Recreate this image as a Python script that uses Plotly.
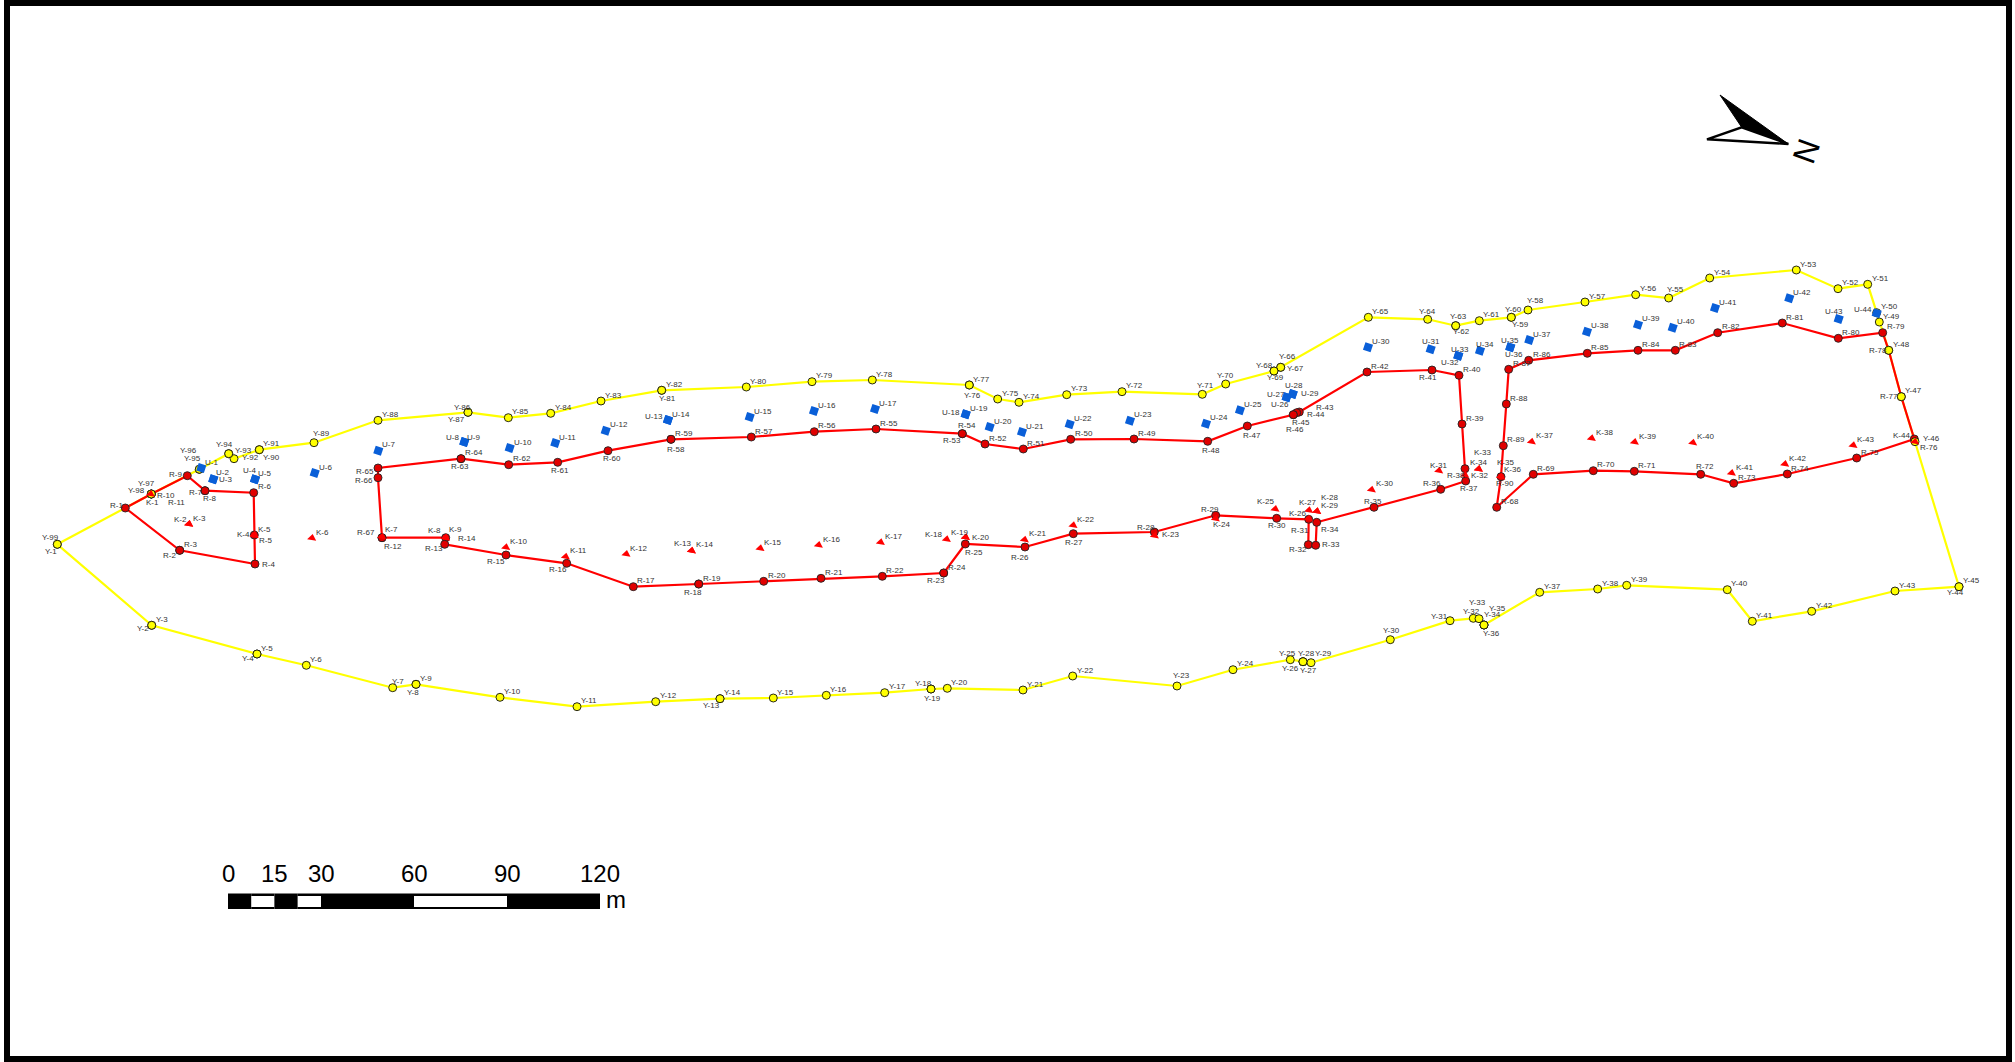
import plotly.graph_objects as go

# ---- boundary points "Y" (map coordinates)
Y_x = [57.3,151.7,151.7,257,257,306.3,392.7,416,416,500,577,655.7,720,720,773.3,826.3,884.7,931,931,947.3,
       1023,1072.7,1177,1233,1290.3,1303,1303,1303,1311,1390.3,1450,1473.3,1479,1484,1484,1484,1539.7,1597.7,1626.7,1727.3,
       1752.3,1811.7,1895,1959,1959,1915,1901.3,1888.7,1879.3,1876.7,1867.7,1838,1796.3,1709.7,1668.7,1635.7,1585,1528,1511.3,1511.3,
       1479.3,1455.7,1455.7,1427.7,1368.3,1280.7,1280.7,1274,1274,1225.7,1202.3,1122,1066.7,1019,997.7,969.3,969.3,872.3,812,746.3,
       661.7,661.7,601,550.7,508.3,468,468,378,314,259.3,259.3,234,228.7,228.7,199.3,199.3,151.3,151.3,57.3]
Y_y = [544.3,625.3,625.3,654,654,665.3,687.7,684.3,684.3,697.3,706.7,701.7,698.7,698.7,698,695.3,692.7,689,689,688.3,
       690,676,686,669.7,659.7,661.7,661.7,661.7,662.7,639.7,620.7,618.3,618.7,625,625,625,592.3,589,585.3,589.7,
       621.3,611.3,591,586.7,586.7,441.7,396.7,350.3,322,312.7,284.3,288.7,270,278,298,294.7,302,310,317.3,317.3,
       320.7,325.7,325.7,319.3,317.3,367.3,367.3,371,371,384,394.3,391.7,394.7,402.3,399,385,385,380,381.7,387,
       390.3,390.3,401,413.3,417.7,412.3,412.3,420.3,442.7,449.7,449.7,458.7,453.7,453.7,469.3,469.3,494,494,544.3]

# ---- traverse points "R"
R_x = [125.3,179.7,179.7,255,254.3,253.7,205,205,187.3,151.3,151.3,
       382,445.7,444.7,506,566.7,633.3,698.7,698.7,763.7,821,882.3,943.7,943.7,965.3,1025,1073.3,1154.3,1215.7,1276.7,
       1308.7,1308.3,1315.7,1316.7,1374,1440.7,1465.7,1465,1462,1459,1432,1367,1299.3,1296.7,1293.3,1293.3,1247.3,1207.7,1134,1070.7,
       1023.3,985,962.3,962.3,876,814.3,751.3,671,671,608,557.7,508.7,461,461,378,378,382,
       1496.7,1533.3,1593.3,1634.3,1700.7,1733.7,1787.3,1856.7,1914.3,1901.3,1888.7,1882.7,1838.3,1782.3,1717.7,1675.3,1638,1587.3,1528.7,1508.7,1506.3,1503.3,1501]
R_y = [508,550.3,550.3,564,535,492.7,490.7,490.7,475.7,494,494,
       537.7,537.7,544.3,555,563.3,586.7,584,584,581.3,578.3,576.3,573,573,544,547,533.7,532,515.3,518.3,
       519.3,544.7,545.3,522.3,507.3,489.3,481,468.7,424,375.3,370,372,412,412.7,414.7,414.7,426,441.3,439,439.3,
       449,444,433.7,433.7,429,431.7,437,439.3,439.3,450.7,462.3,464.7,458.7,458.7,468,477.7,537.7,
       507.3,474.3,470.7,471.3,474.3,483.3,474,458,439,396.7,350.3,332.7,338.3,323,332.7,350.3,350.3,353.3,360.3,369.3,404,445.7,476.7]
R_rings = [(1, 11), (12, 67), (68, 90)]   # numbered rings, each one closes on itself

# ---- "U" points
U_x = [201.3,213.3,213.3,255,255,314.7,378.3,464.3,464.3,509.7,555.3,605.7,668,668,749.7,814,875,965.7,965.7,989.7,
       1022,1069.7,1130,1206,1240,1286.7,1286.7,1292.7,1292.7,1368,1430.7,1458.3,1458.3,1480,1510.3,1510.3,1529.3,1587,1638,1672.7,1715,1789.3,1838.7,1876.7]
U_y = [468,479.3,479.3,479.3,479.3,473,450.7,442,442,448,443,430.7,420,420,417,411,409,414.3,414.3,427,
       432,424.3,420.7,423.7,410.3,397.3,397.3,394,394,347.3,349.3,355.7,355.7,350.7,347.3,347.3,340,331.7,324.7,327.7,308,298.3,319,313.3]

# ---- "K" points
K_x = [150.7,189,189,254.3,254.3,312,382,445.7,445.7,506,565.7,626.3,691.7,691.7,760.3,818.7,880.7,946.7,965.7,965.7,
       1024.7,1073.3,1154.7,1215.7,1275.3,1308.7,1309,1317,1317,1371.7,1439,1465,1478.7,1478.7,1501,1501,1531.7,1591.7,1634.7,1693,1731.7,1785,1853.3,1915]
K_y = [494,524,524,535,535,538,536.7,537.7,537.7,547.3,556.7,554,550.7,550.7,548.3,545,542.3,539.3,537.3,537.3,
       539.7,525.3,535.7,518.7,509,518.7,510.3,511.3,511.3,489.7,470.7,475,469,469,476.7,476.7,441.7,438.3,442,442.7,473,464,445.3,441.7]

# ---- scale bar, in metres
SCALE_TICKS = [0, 15, 30, 60, 90, 120]
SCALE_STOPS = [0, 7.5, 15, 22.5, 30, 60, 90, 120]

# ---- label placement: offset of a label's centre from its point, in pixels (x right, y down).
# Anything not listed sits up and to the right of its point, the map's usual placement.
LABEL_OFFSETS = {
    "Y-1":(-6,7),"Y-2":(-9,3),"Y-4":(-9,4),"Y-7":(5,-6),"Y-8":(-3,8),"Y-13":(-9,7),"Y-18":(-8,-6),"Y-19":(1,9),
    "Y-23":(4,-11),"Y-25":(-3,-6),"Y-26":(-13,7),"Y-27":(5,9),"Y-28":(3,-8),"Y-29":(12,-9),"Y-30":(1,-9),
    "Y-31":(-11,-4),"Y-32":(-2,-7),"Y-33":(-2,-16),"Y-34":(8,-11),"Y-35":(13,-17),"Y-36":(7,8),
    "Y-44":(-4,6),"Y-46":(16,-3),"Y-55":(7,-9),"Y-58":(7,-10),"Y-59":(9,7),"Y-60":(2,-8),
    "Y-62":(6,6),"Y-63":(3,-9),"Y-64":(0,-8),"Y-66":(7,-11),"Y-67":(15,1),"Y-68":(-10,-6),"Y-69":(1,6),
    "Y-70":(0,-9),"Y-71":(3,-9),"Y-76":(3,10),"Y-81":(6,8),"Y-86":(-6,-5),"Y-87":(-12,7),"Y-89":(7,-9),
    "Y-90":(12,8),"Y-92":(16,-1),"Y-93":(15,-3),"Y-94":(-4,-9),"Y-95":(-7,-11),"Y-96":(-11,-19),
    "Y-97":(-5,-11),"Y-98":(-15,-4),"Y-99":(-7,-7),
    "R-1":(-9,-3),"R-2":(-10,5),"R-4":(13,0),"R-5":(11,5),"R-7":(-10,2),"R-8":(4,8),"R-9":(-12,-1),
    "R-10":(15,1),"R-11":(25,8),"R-12":(11,9),"R-13":(-12,11),"R-14":(22,-6),"R-15":(-10,6),"R-16":(-9,6),
    "R-18":(-6,8),"R-23":(-8,7),"R-25":(9,8),"R-26":(-5,10),"R-27":(1,9),"R-28":(-8,-5),"R-29":(-6,-6),
    "R-30":(0,7),"R-31":(-9,11),"R-32":(-10,5),"R-33":(15,-1),"R-34":(13,7),"R-35":(-1,-6),"R-36":(-9,-6),
    "R-37":(3,7),"R-38":(-9,7),"R-41":(-4,7),"R-43":(26,-5),"R-44":(19,2),"R-45":(8,8),"R-46":(2,15),
    "R-47":(5,9),"R-48":(3,9),"R-53":(-10,7),"R-54":(5,-8),"R-58":(5,10),"R-60":(4,8),"R-61":(2,8),
    "R-63":(-1,8),"R-65":(-13,3),"R-66":(-14,3),"R-67":(-16,-5),"R-72":(4,-8),"R-76":(15,8),"R-77":(-12,0),
    "R-78":(-11,0),"R-90":(4,7),
    "U-2":(9,-7),"U-3":(12,0),"U-4":(-6,-9),"U-5":(9,-6),"U-8":(-12,-5),"U-9":(9,-5),"U-13":(-14,-4),
    "U-18":(-15,-2),"U-26":(-7,7),"U-27":(-11,-3),"U-28":(1,-9),"U-29":(17,-1),"U-31":(0,-8),"U-32":(-8,7),
    "U-33":(2,-6),"U-34":(5,-6),"U-35":(0,-7),"U-36":(4,7),"U-43":(-5,-8),"U-44":(-14,-4),
    "K-1":(2,8),"K-2":(-9,-5),"K-4":(-11,-1),"K-5":(10,-6),"K-7":(9,-7),"K-8":(-11,-7),"K-9":(10,-8),
    "K-13":(-9,-7),"K-18":(-13,-5),"K-19":(-6,-5),"K-20":(15,0),"K-23":(16,-1),"K-24":(6,6),"K-25":(-10,-8),
    "K-26":(-11,-5),"K-27":(-2,-8),"K-28":(12,-14),"K-29":(12,-6),"K-31":(-1,-5),"K-32":(14,0),
    "K-33":(4,-17),"K-34":(0,-7),"K-35":(4,-14),"K-36":(11,-7),"K-44":(-14,-6),
}

FONT = "Liberation Sans, Arial, sans-serif"


def names(prefix, count):
    return [f"{prefix}-{i}" for i in range(1, count + 1)]


def label(name, x, y):
    if name in LABEL_OFFSETS:
        dx, dy = LABEL_OFFSETS[name]
        anchor = "center"
    else:
        dx, dy, anchor = 2, -6, "left"
    return dict(x=x, y=y, text=name, showarrow=False, xref="x", yref="y", xanchor=anchor, yanchor="middle",
                xshift=dx, yshift=-dy, font=dict(family=FONT, size=8, color="#333333"))


fig = go.Figure()

Y_names, R_names, U_names, K_names = names("Y", 99), names("R", 90), names("U", 44), names("K", 44)

# boundary line below the red rings
fig.add_trace(go.Scatter(x=Y_x, y=Y_y, mode="lines", line=dict(color="#ffff00", width=2.2), hoverinfo="skip"))

# traverse rings
ring_x, ring_y = [], []
for a, b in R_rings:
    ring_x += R_x[a - 1:b] + [R_x[a - 1], None]
    ring_y += R_y[a - 1:b] + [R_y[a - 1], None]
fig.add_trace(go.Scatter(x=ring_x, y=ring_y, mode="lines", line=dict(color="#ff0000", width=2.2), hoverinfo="skip"))
fig.add_trace(go.Scatter(x=R_x, y=R_y, mode="markers", text=R_names,
                         marker=dict(symbol="circle", size=8, color="#e00000", line=dict(color="#222", width=0.9))))
fig.add_trace(go.Scatter(x=Y_x, y=Y_y, mode="markers", text=Y_names,
                         marker=dict(symbol="circle", size=8, color="#ffff00", line=dict(color="#111", width=0.9))))
fig.add_trace(go.Scatter(x=U_x, y=U_y, mode="markers", text=U_names,
                         marker=dict(symbol="square", size=8, color="#0a5fd8", angle=18)))
fig.add_trace(go.Scatter(x=K_x, y=K_y, mode="markers", text=K_names,
                         marker=dict(symbol="triangle-up", size=8, color="#ff0000", angle=10)))

shapes = []
# frame
shapes.append(dict(type="rect", x0=7, x1=2009, y0=3, y1=1059, xref="x", yref="y",
                   line=dict(color="black", width=6), fillcolor="rgba(0,0,0,0)"))

# scale bar
BAR_X0, PX_PER_M = 228, 3.1
for i in range(len(SCALE_STOPS) - 1):
    x0 = BAR_X0 + SCALE_STOPS[i] * PX_PER_M
    x1 = BAR_X0 + SCALE_STOPS[i + 1] * PX_PER_M
    shapes.append(dict(type="rect", x0=x0, x1=x1, y0=893.5, y1=909, xref="x", yref="y",
                       line=dict(width=0), fillcolor="black"))
    if i % 2:
        shapes.append(dict(type="rect", x0=x0, x1=x1, y0=896, y1=907, xref="x", yref="y",
                           line=dict(width=0), fillcolor="white"))

# north arrow
shapes.append(dict(type="path", path="M1720,95 L1788.3,144 L1741.7,127.3 Z", xref="x", yref="y",
                   fillcolor="black", line=dict(color="black", width=1)))
shapes.append(dict(type="path", path="M1707,139.3 L1741.7,127.3 L1788.3,144 Z", xref="x", yref="y",
                   fillcolor="white", line=dict(color="black", width=2.4)))

ann = [dict(x=BAR_X0 + m * PX_PER_M, y=873, text=str(m), showarrow=False, xref="x", yref="y",
            font=dict(family=FONT, size=24, color="black")) for m in SCALE_TICKS]
ann.append(dict(x=616, y=899, text="m", showarrow=False, xref="x", yref="y",
                font=dict(family=FONT, size=24, color="black")))
ann.append(dict(x=1806.5, y=151, text="N", textangle=110, showarrow=False, xref="x", yref="y",
                font=dict(family=FONT, size=32, color="black")))
for names_, xs, ys in ((Y_names, Y_x, Y_y), (R_names, R_x, R_y), (U_names, U_x, U_y), (K_names, K_x, K_y)):
    ann += [label(n, x, y) for n, x, y in zip(names_, xs, ys)]

fig.update_layout(width=2015, height=1062, margin=dict(l=0, r=0, t=0, b=0),
                  paper_bgcolor="white", plot_bgcolor="white", showlegend=False,
                  shapes=shapes, annotations=ann,
                  xaxis=dict(range=[0, 2015], visible=False, fixedrange=True),
                  yaxis=dict(range=[1062, 0], visible=False, fixedrange=True))
fig.write_html("out.html", config={"displayModeBar": False},
               post_script="document.documentElement.style.overflow='hidden';document.body.style.margin='0';")
